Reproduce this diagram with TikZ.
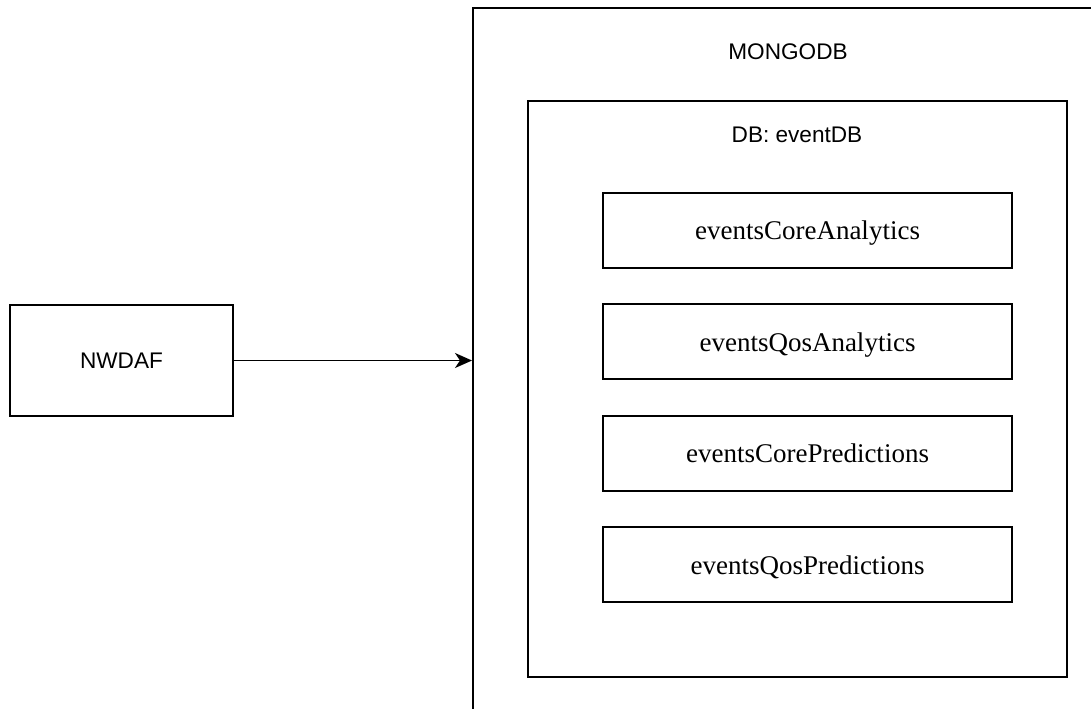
\documentclass[tikz,border=0pt]{standalone}
\usepackage{fontspec}
\setmainfont{Liberation Serif}
\setsansfont{Liberation Sans}
\usetikzlibrary{arrows.meta,positioning}

\begin{document}
\begin{tikzpicture}[
    x=0.5pt,y=-0.5pt,
    node distance=17.2pt,
    box/.style={draw,line width=1pt,minimum width=#1,inner sep=0pt},
    coll/.style={box=204.5pt,minimum height=37.5pt,text depth=0pt,font=\rmfamily\fontsize{13.5}{16}\selectfont},
    lbl/.style={font=\sffamily\fontsize{11.3}{13.5}\selectfont,inner sep=0pt},
    arr/.style={-{Stealth[length=8.5pt,width=7.5pt,inset=2.5pt]},line width=0.75pt}
]
\useasboundingbox (0,0) rectangle (1091,708);
\node[box=111.5pt,minimum height=55.5pt,lbl] (nwdaf) at (121.5,360.5) {NWDAF};
\node[box=318.5pt,minimum height=361pt] (mongo) at (791.5,369) {};
\node[lbl] (mongolbl) at (788,52) {MONGODB};
\node[box=269.5pt,minimum height=288pt] (eventdb) at (797.5,389) {};
\node[lbl] (dblbl) at (797,135) {DB: eventDB};
\node[coll] (coreana) at (807.5,230.5) {eventsCoreAnalytics};
\node[coll,below=of coreana] (qosana) {eventsQosAnalytics};
\node[coll,below=of qosana] (corepred) {eventsCorePredictions};
\node[coll,below=of corepred] (qospred) {eventsQosPredictions};

\draw[arr] (nwdaf.east) -- (nwdaf.east -| mongo.west);
\end{tikzpicture}
\end{document}
